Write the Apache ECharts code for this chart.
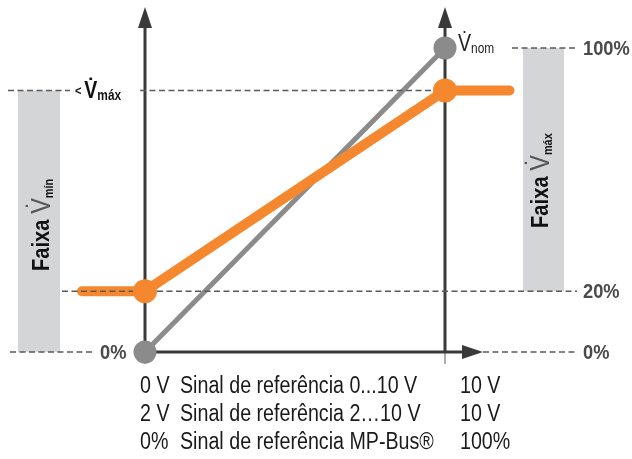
<!DOCTYPE html>
<html><head><meta charset="utf-8">
<script src="https://cdn.jsdelivr.net/npm/echarts/dist/echarts.min.js"></script>
<style>html,body{margin:0;padding:0;background:#fff}#c{width:632px;height:459px}</style>
</head><body><div id="c"></div>
<script>
// ---- data ----
const nominalFlow = [[0, 0], [10, 100]];
const nominalPoints = [[0, 0], [10, 100]];
const actualFlow = [[-2.1, 20], [0, 20], [10, 86], [12.15, 86]];
const actualPoints = [[0, 20], [10, 86]];
const vminPct = 20;
const vmaxPct = 86;
const percentLabels = ['0%', '20%', '100%'];
const signalRows = [
  ['0 V', 'Sinal de referência 0...10 V', '10 V'],
  ['2 V', 'Sinal de referência 2…10 V', '10 V'],
  ['0%', 'Sinal de referência MP-Bus®', '100%']
];

const AXIS = '#3a3a3a';
const DASH = '#5a5a5a';
const BOXC = '#d4d5d7';
const ORANGE = '#f5882f';
const GRAY = '#8b8b8b';
const SANS = '"Liberation Sans", Arial, sans-serif';

function helpers(api) {
  const X = v => api.coord([v, 0])[0];
  const Y = v => api.coord([0, v])[1];
  return { X, Y };
}

function rangeLabel(x, y, sub) {
  return {
    type: 'text', x, y, rotation: Math.PI / 2, scaleX: 0.84,
    style: {
      x: 0, y: 0,
      text: '{f|Faixa}  {v|V̇}{s|' + sub + '}', align: 'center', verticalAlign: 'middle',
      rich: {
        f: { fontSize: 24, fontWeight: 'bold', fontFamily: SANS, fill: '#111' },
        v: { fontSize: 28, fontFamily: SANS, fill: '#555' },
        s: { fontSize: 13, fontWeight: 'bold', fontFamily: SANS, fill: '#111', verticalAlign: 'bottom' }
      }
    }
  };
}

function renderBackground(params, api) {
  const { X, Y } = helpers(api);
  const x0 = X(0), x10 = X(10), y0 = Y(0), y100 = Y(100), yMin = Y(vminPct), yMax = Y(vmaxPct);
  const ch = [];
  ch.push({ type: 'rect', shape: { x: x0 - 127, y: yMax, width: 42, height: y0 - yMax }, style: { fill: BOXC } });
  ch.push({ type: 'rect', shape: { x: x10 + 78, y: y100, width: 41, height: yMin - y100 }, style: { fill: BOXC } });
  [x0, x10].forEach(x => {
    ch.push({ type: 'line', shape: { x1: x, y1: y0, x2: x, y2: 24 }, style: { stroke: AXIS, lineWidth: 3 } });
    ch.push({ type: 'line', shape: { x1: x, y1: y0, x2: x, y2: y0 + 12 }, style: { stroke: '#777', lineWidth: 1.2 } });
    ch.push({ type: 'polygon', shape: { points: [[x - 7, 28], [x + 7, 28], [x, 7]] }, style: { fill: AXIS } });
  });
  ch.push({ type: 'line', shape: { x1: x0, y1: y0, x2: x10 + 20, y2: y0 }, style: { stroke: AXIS, lineWidth: 3 } });
  ch.push({ type: 'polygon', shape: { points: [[x10 + 17, y0 - 7], [x10 + 17, y0 + 7], [x10 + 38, y0]] }, style: { fill: AXIS } });

  ch.push(rangeLabel(x0 - 103, (yMin + yMax) / 2 + 34, 'mín'));
  ch.push(rangeLabel(x10 + 96, (yMin + y100) / 2 + 11, 'máx'));
  return { type: 'group', children: ch };
}

function renderOverlay(params, api) {
  const { X, Y } = helpers(api);
  const x0 = X(0), x10 = X(10), y0 = Y(0), y100 = Y(100), yMin = Y(vminPct), yMax = Y(vmaxPct);
  const ch = [];
  const dash = (x1, x2, y) => ch.push({ type: 'line', shape: { x1, y1: y, x2, y2: y }, style: { stroke: DASH, lineWidth: 1.4, lineDash: [6, 3.5] } });
  dash(x10 + 67, x10 + 131, y100);
  dash(x0 - 137, x0 - 75, yMax);
  dash(x0 - 5, x10 - 10, yMax);
  dash(x0 - 83, x10 + 132, yMin);
  dash(x0 - 135, x0 - 52, y0);
  dash(x10 + 38, x10 + 131, y0);

  const pct = (t, x, y) => ch.push({
    type: 'text', x, y, scaleX: 0.87,
    style: { text: t, x: 0, y: 0, align: 'left', verticalAlign: 'middle',
      fontSize: 21, fontWeight: 'bold', fontFamily: SANS, fill: '#4a4a4a' }
  });
  pct(percentLabels[2], x10 + 138, y100 + 1);
  pct(percentLabels[1], x10 + 138, yMin + 1);
  pct(percentLabels[0], x10 + 138, y0 + 1);
  pct(percentLabels[0], x0 - 45, y0 + 1);

  ch.push({
    type: 'text', x: x0 - 70, y: yMax + 1, scaleX: 0.85,
    style: {
      text: '{l|<} {v|V̇}{s|máx}', x: 0, y: 0, align: 'left', verticalAlign: 'middle',
      rich: {
        l: { fontSize: 13, fontWeight: 'bold', fontFamily: SANS, fill: '#111' },
        v: { fontSize: 23, fontWeight: 'bold', fontFamily: SANS, fill: '#111' },
        s: { fontSize: 14, fontWeight: 'bold', fontFamily: SANS, fill: '#111', verticalAlign: 'bottom' }
      }
    }
  });
  ch.push({
    type: 'text', x: x10 + 13, y: y100 - 3, scaleX: 0.85,
    style: {
      text: '{v|V̇}{s|nom}', x: 0, y: 0, align: 'left', verticalAlign: 'middle',
      rich: {
        v: { fontSize: 23, fontFamily: SANS, fill: '#222' },
        s: { fontSize: 14, fontFamily: SANS, fill: '#222', verticalAlign: 'bottom' }
      }
    }
  });

  signalRows.forEach((row, i) => {
    const y = y0 + 35 + i * 28;
    [x0 - 5, x0 + 35, x10 + 15].forEach((x, j) => ch.push({
      type: 'text', x, y, scaleX: 0.855,
      style: { text: row[j], x: 0, y: 0, align: 'left', verticalAlign: 'middle',
        fontSize: 23, fontFamily: SANS, fill: '#1a1a1a' }
    }));
  });
  return { type: 'group', children: ch };
}

const chart = echarts.init(document.getElementById('c'), null, { renderer: 'canvas' });
chart.setOption({
  animation: false,
  backgroundColor: '#fff',
  grid: { left: 55, right: 97, top: 48, bottom: 107 },
  xAxis: { type: 'value', min: -3, max: 13, show: false },
  yAxis: { type: 'value', min: 0, max: 100, show: false },
  series: [
    { type: 'custom', data: [[0, 0]], renderItem: renderBackground, clip: false, z: 1, silent: true },
    { type: 'line', data: nominalFlow, symbol: 'none', clip: false, z: 2,
      lineStyle: { color: GRAY, width: 5, cap: 'round' } },
    { type: 'line', data: actualFlow, symbol: 'none', clip: false, z: 3,
      lineStyle: { color: ORANGE, width: 10, cap: 'round', join: 'round' } },
    { type: 'custom', data: [[0, 0]], renderItem: renderOverlay, clip: false, z: 4, silent: true },
    { type: 'scatter', data: nominalPoints, symbolSize: 23, clip: false, z: 5, itemStyle: { color: GRAY, opacity: 1 } },
    { type: 'scatter', data: actualPoints, symbolSize: 24, clip: false, z: 6, itemStyle: { color: ORANGE, opacity: 1 } }
  ]
});
</script></body></html>
